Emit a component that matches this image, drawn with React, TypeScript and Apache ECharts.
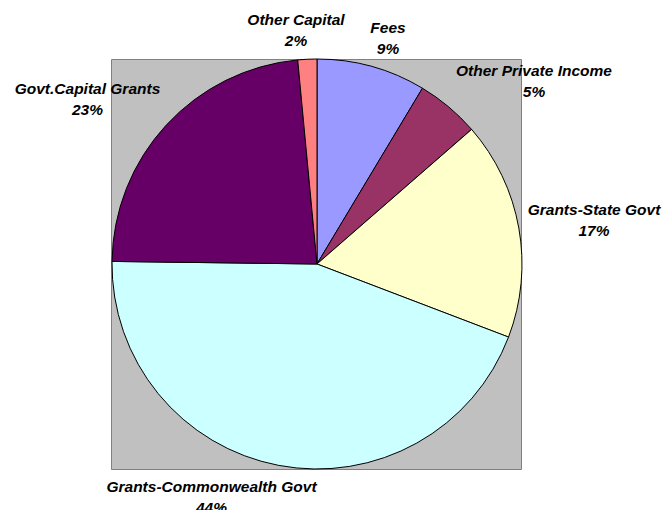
import React, { useEffect, useRef } from "react";
import * as echarts from "echarts";

const categories = [
  "Fees",
  "Other Private Income",
  "Grants-State Govt",
  "Grants-Commonwealth Govt",
  "Govt.Capital Grants",
  "Other Capital",
];
const values = [8.6, 5.0, 17.2, 44.4, 23.3, 1.5];
const colors = ["#9999ff", "#993366", "#ffffcc", "#ccffff", "#660066", "#ff8080"];
// label anchor positions (layout only)
const labelPos: [number, number][] = [
  [388, 38],
  [534, 80.5],
  [594, 220],
  [211.5, 496.5],
  [87.5, 99],
  [296, 29.5],
];

export default function App() {
  const ref = useRef<HTMLDivElement>(null);
  useEffect(() => {
    document.body.style.margin = "0";
    const chart = echarts.init(ref.current!, null, { renderer: "svg" });
    chart.setOption({
      animation: false,
      backgroundColor: "#ffffff",
      graphic: [
        {
          type: "rect",
          z: 0,
          shape: { x: 111.5, y: 59.5, width: 410, height: 410 },
          style: { fill: "#c0c0c0", stroke: "#808080", lineWidth: 1 },
        },
      ],
      series: [
        {
          type: "pie",
          z: 5,
          center: [317, 264],
          radius: [0, 205],
          startAngle: 90,
          clockwise: true,
          percentPrecision: 0,
          data: categories.map((c, i) => ({
            name: c,
            value: values[i],
            itemStyle: { color: colors[i] },
          })),
          itemStyle: { borderColor: "#000000", borderWidth: 1 },
          label: {
            show: true,
            position: "inside",
            formatter: "{b}\n{d}%",
            fontFamily: "Liberation Sans, Arial, sans-serif",
            fontWeight: "bold",
            fontStyle: "italic",
            fontSize: 15.5,
            lineHeight: 21,
            color: "#000000",
            align: "center",
            overflow: "none",
          },
          labelLine: { show: false },
          labelLayout: (params: any) => {
            const p = labelPos[params.dataIndex];
            return { x: p[0], y: p[1], align: "center", verticalAlign: "middle" };
          },
          emphasis: { disabled: true },
        },
      ],
    });
    return () => chart.dispose();
  }, []);
  return <div ref={ref} style={{ width: 662, height: 510 }} />;
}
